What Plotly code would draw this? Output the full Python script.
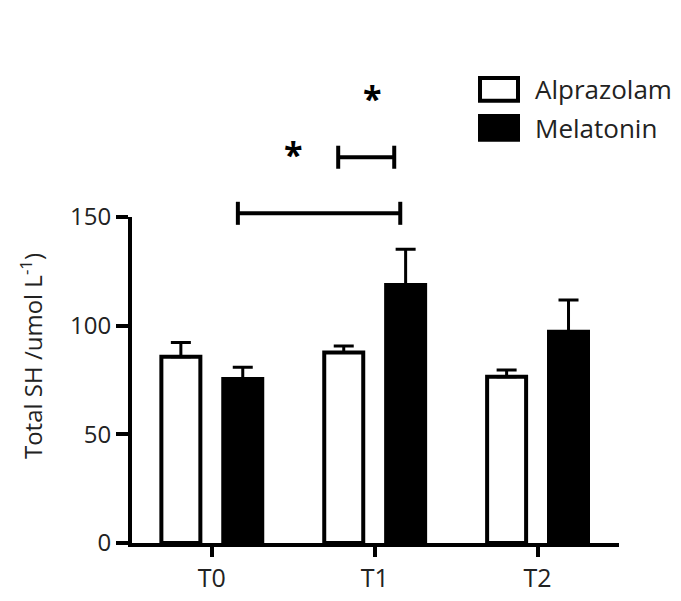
import plotly.graph_objects as go

# ---- data ----
categories = ["T0", "T1", "T2"]
alprazolam = [85.7, 87.6, 76.5]
alprazolam_err = [6.5, 3.1, 3.1]
melatonin = [75.5, 118.7, 97.2]
melatonin_err = [5.4, 16.5, 14.6]
y_ticks = [0, 50, 100, 150]
y_max = 150

# significance brackets: (x start, x end, y level) in data units, star positions
brackets = [(0.16, 1.157, 151.7), (0.776, 1.12, 177.5)]
stars = [(0.5, 179.2), (0.985, 204.7)]
bracket_end = 5.3

x_pos = list(range(len(categories)))
FONT = "Open Sans"


def to_paper(v):
    # y axis spans the full plot domain from 0 to y_max
    return v / y_max


fig = go.Figure()
fig.add_trace(go.Bar(
    x=x_pos, y=alprazolam, name="Alprazolam",
    marker=dict(color="white", line=dict(color="black", width=4)),
    error_y=dict(type="data", array=alprazolam_err, arrayminus=[0]*3, symmetric=False,
                 color="black", thickness=3, width=10),
))
fig.add_trace(go.Bar(
    x=x_pos, y=melatonin, name="Melatonin",
    marker=dict(color="black", line=dict(color="black", width=4)),
    error_y=dict(type="data", array=melatonin_err, arrayminus=[0]*3, symmetric=False,
                 color="black", thickness=3, width=10),
))

shapes = []
annotations = []
for x0, x1, y in brackets:
    segs = [(x0, y, x1, y), (x0, y - bracket_end, x0, y + bracket_end),
            (x1, y - bracket_end, x1, y + bracket_end)]
    for ax_, ay_, bx, by in segs:
        shapes.append(dict(type="line", xref="x", yref="paper",
                           x0=ax_, x1=bx, y0=to_paper(ay_), y1=to_paper(by),
                           line=dict(color="black", width=4)))
for sx, sy in stars:
    annotations.append(dict(x=sx, y=to_paper(sy), xref="x", yref="paper", text="<b>*</b>",
                            showarrow=False, font=dict(family=FONT, size=34, color="black"),
                            xanchor="center", yanchor="middle"))

# y-axis title
annotations.append(dict(x=-0.205, y=0.574, xref="paper", yref="paper",
                        text="Total SH /umol L<sup>-1</sup>)", textangle=-90,
                        showarrow=False, font=dict(family=FONT, size=24, color="#222"),
                        xanchor="center", yanchor="middle"))

# custom legend
legend_items = [("Alprazolam", "white", 1.3926, 1.3567, 1.4264),
                ("Melatonin", "black", 1.273, 1.2371, 1.3098)]
for name, fill, ty, y0, y1 in legend_items:
    shapes.append(dict(type="rect", xref="paper", yref="paper", x0=0.7146, x1=0.7926,
                       y0=y0, y1=y1, fillcolor=fill, line=dict(color="black", width=4)))
    annotations.append(dict(x=0.8234, y=ty, xref="paper", yref="paper", text=name,
                            showarrow=False, xanchor="left", yanchor="middle",
                            font=dict(family=FONT, size=26, color="#222")))

fig.update_layout(
    width=681, height=601, autosize=False,
    margin=dict(l=124, r=70, t=209, b=66),
    plot_bgcolor="white", paper_bgcolor="white",
    barmode="group", bargap=0.24, bargroupgap=0.37,
    showlegend=False,
    font=dict(family=FONT, color="#222"),
    annotations=annotations, shapes=shapes,
    xaxis=dict(range=[-0.49, 2.5], tickvals=x_pos, ticktext=categories,
               showline=True, linecolor="black", linewidth=4, ticks="outside",
               ticklen=10, tickwidth=4, tickcolor="black", showgrid=False, zeroline=False,
               tickfont=dict(family=FONT, size=25, color="#222")),
    yaxis=dict(range=[0, y_max], tickvals=y_ticks, showline=True, linecolor="black",
               linewidth=4, ticks="outside", ticklen=12, tickwidth=4, tickcolor="black",
               showgrid=False, zeroline=False,
               tickfont=dict(family=FONT, size=24, color="#222")),
)

fig.write_html("out.html")
